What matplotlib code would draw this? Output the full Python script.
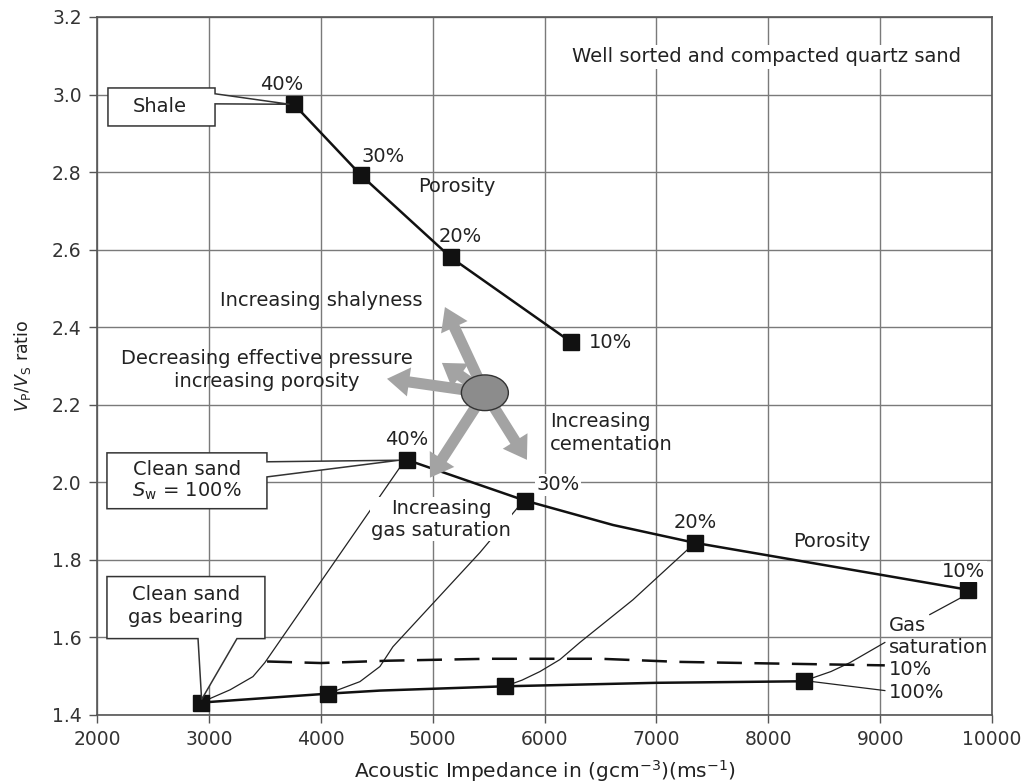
import matplotlib
matplotlib.use('Agg')
import matplotlib.pyplot as plt
from matplotlib.patches import Polygon, Ellipse, FancyArrowPatch, ArrowStyle

plt.rcParams['font.family'] = ['DejaVu Sans']

# ---------------- data ----------------
shale_ai = [3760, 4360, 5163, 6236]
shale_vpvs = [2.975, 2.792, 2.580, 2.362]
shale_labels = ['40%', '30%', '20%', '10%']

sand_ai = [4770, 5825, 7344, 9784]
sand_vpvs = [2.058, 1.953, 1.844, 1.723]
sand_line_ai = [4770, 5825, 6612, 7344, 9784]
sand_line_vpvs = [2.058, 1.953, 1.890, 1.844, 1.723]
sand_labels = ['40%', '30%', '20%', '10%']

gas_ai = [2927, 4064, 5646, 8320]
gas_vpvs = [1.432, 1.455, 1.474, 1.487]
gas_line_ai = [2927, 4064, 4530, 5646, 7000, 8320]
gas_line_vpvs = [1.432, 1.455, 1.463, 1.474, 1.483, 1.487]

gas10_ai = [3520, 4000, 4600, 5500, 6500, 7200, 8000, 9042]
gas10_vpvs = [1.538, 1.534, 1.540, 1.545, 1.545, 1.537, 1.533, 1.528]

curve_a_ai = [2927, 3190, 3394, 3500, 4735]
curve_a_vpvs = [1.432, 1.465, 1.499, 1.535, 2.050]
curve_b_ai = [4064, 4350, 4529, 4645, 5423, 5790]
curve_b_vpvs = [1.455, 1.486, 1.525, 1.576, 1.819, 1.945]
curve_c_ai = [5646, 5800, 5959, 6138, 6316, 6790, 7330]
curve_c_vpvs = [1.474, 1.490, 1.512, 1.543, 1.587, 1.697, 1.840]
curve_d_ai = [8330, 8400, 8560, 8730, 9042]
curve_d_vpvs = [1.489, 1.496, 1.512, 1.535, 1.587]

trend_center = (5467, 2.231)
arrow_tips_ai = [5110, 4592, 5083, 4976, 5843]
arrow_tips_vpvs = [2.452, 2.267, 2.308, 2.012, 2.058]

x_ticks = [2000, 3000, 4000, 5000, 6000, 7000, 8000, 9000, 10000]
y_ticks = [1.4, 1.6, 1.8, 2.0, 2.2, 2.4, 2.6, 2.8, 3.0, 3.2]

# ---------------- figure ----------------
W, H = 1027, 783
fig = plt.figure(figsize=(W / 100, H / 100), dpi=100)
ax = fig.add_axes([97 / W, 1 - 715 / H, (992 - 97) / W, (715 - 17) / H])
ax.set_xlim(2000, 10000)
ax.set_ylim(1.4, 3.2)
ax.set_xticks(x_ticks)
ax.set_yticks(y_ticks)
ax.set_yticklabels([f'{v:.1f}' for v in y_ticks])
ax.grid(True, color='#7a7a7a', lw=1.0)
ax.set_axisbelow(True)
for s in ax.spines.values():
    s.set_color('#555555')
    s.set_linewidth(1.2)
ax.tick_params(direction='out', length=6, width=1, color='#555555',
               labelsize=13.5, labelcolor='#333333', pad=5)

FS = 14
TC = '#222222'

# main lines
ax.plot(shale_ai, shale_vpvs, color='#111111', lw=1.8, zorder=4)
ax.plot(shale_ai, shale_vpvs, 's', color='#111111', ms=11, zorder=5)
ax.plot(sand_line_ai, sand_line_vpvs, color='#111111', lw=1.8, zorder=4)
ax.plot(sand_ai, sand_vpvs, 's', color='#111111', ms=11, zorder=5)
ax.plot(gas_line_ai, gas_line_vpvs, color='#111111', lw=1.8, zorder=4)
ax.plot(gas_ai, gas_vpvs, 's', color='#111111', ms=11, zorder=5)
ax.plot(gas10_ai, gas10_vpvs, color='#111111', lw=1.8, dashes=(10, 5), zorder=4)

for xs, ys in [(curve_a_ai, curve_a_vpvs), (curve_b_ai, curve_b_vpvs),
               (curve_c_ai, curve_c_vpvs), (curve_d_ai, curve_d_vpvs)]:
    ax.plot(xs, ys, color='#222222', lw=0.9, zorder=3)

# leaders near gas saturation label
ax.plot([9739, 9444], [1.705, 1.659], color='#222222', lw=0.9, zorder=3)
ax.plot([8399, 9042], [1.486, 1.463], color='#222222', lw=0.9, zorder=3)

# trend arrows
for tx, ty in zip(arrow_tips_ai, arrow_tips_vpvs):
    arr = FancyArrowPatch(trend_center, (tx, ty),
                          arrowstyle=ArrowStyle.Simple(head_length=1.6, head_width=2.1, tail_width=0.8),
                          mutation_scale=10, color='#a3a3a3', lw=0, shrinkA=0, shrinkB=0, zorder=6)
    ax.add_patch(arr)
ax.add_patch(Ellipse(trend_center, 420, 0.092, facecolor='#8c8c8c', edgecolor='#333333', lw=1.0, zorder=7))

# callout boxes
def callout(pts):
    ax.add_patch(Polygon(pts, closed=True, facecolor='white', edgecolor='#333333', lw=1.1, zorder=8))

callout([(2098, 3.017), (3055, 3.017), (3055, 3.002), (3720, 2.975), (3055, 2.976),
         (3055, 2.919), (2098, 2.919)])
callout([(2089, 2.076), (3519, 2.076), (3519, 2.053), (4700, 2.057), (3519, 2.014),
         (3519, 1.932), (2089, 1.932)])
callout([(2089, 1.757), (3501, 1.757), (3501, 1.597), (3251, 1.597), (2935, 1.440),
         (2903, 1.597), (2089, 1.597)])
ax.text(2563, 2.968, 'Shale', ha='center', va='center', fontsize=FS, color=TC, zorder=9)
ax.text(2804, 2.032, 'Clean sand', ha='center', va='center', fontsize=FS, color=TC, zorder=9)
ax.text(2804, 1.976, r'$S_\mathrm{w}$ = 100%', ha='center', va='center', fontsize=FS, color=TC, zorder=9)
ax.text(2795, 1.710, 'Clean sand', ha='center', va='center', fontsize=FS, color=TC, zorder=9)
ax.text(2795, 1.651, 'gas bearing', ha='center', va='center', fontsize=FS, color=TC, zorder=9)

# percentage labels
shale_lab_pos = [(3653, 3.027, 'center'), (4556, 2.839, 'center'), (5244, 2.633, 'center'), (6400, 2.360, 'left')]
for (x, y, ha), lab in zip(shale_lab_pos, shale_labels):
    ax.text(x, y, lab, ha=ha, va='center', fontsize=FS, color=TC, zorder=9)
sand_lab_pos = [(4770, 2.110), (6120, 1.994), (7344, 1.896), (9748, 1.770)]
for (x, y), lab in zip(sand_lab_pos, sand_labels):
    ax.text(x, y, lab, ha='center', va='center', fontsize=FS, color=TC, zorder=9,
            bbox=dict(facecolor='white', edgecolor='none', pad=1))

ax.text(7987, 3.097, 'Well sorted and compacted quartz sand', ha='center', va='center',
        fontsize=FS, color=TC, zorder=9, bbox=dict(facecolor='white', edgecolor='none', pad=2))
ax.text(5217, 2.762, 'Porosity', ha='center', va='center', fontsize=FS, color=TC, zorder=9)
ax.text(8568, 1.847, 'Porosity', ha='center', va='center', fontsize=FS, color=TC, zorder=9)
ax.text(4002, 2.469, 'Increasing shalyness', ha='center', va='center', fontsize=FS, color=TC, zorder=9)
ax.text(3515, 2.290, 'Decreasing effective pressure\nincreasing porosity', ha='center', va='center',
        fontsize=FS, color=TC, zorder=9, linespacing=1.25)
ax.text(6048, 2.128, 'Increasing\ncementation', ha='left', va='center', fontsize=FS, color=TC,
        zorder=9, linespacing=1.25)
ax.text(5074, 1.905, 'Increasing\ngas saturation', ha='center', va='center', fontsize=FS, color=TC,
        zorder=3.5, linespacing=1.2, bbox=dict(facecolor='white', edgecolor='none', pad=1))
ax.text(9078, 1.602, 'Gas\nsaturation', ha='left', va='center', fontsize=FS, color=TC,
        zorder=9, linespacing=1.2)
ax.text(9078, 1.517, '10%', ha='left', va='center', fontsize=FS, color=TC, zorder=9)
ax.text(9078, 1.458, '100%', ha='left', va='center', fontsize=FS, color=TC, zorder=9)

fig.text(545 / W, 1 - 778 / H, r'Acoustic Impedance in (gcm$^{-3}$)(ms$^{-1}$)',
         ha='center', va='baseline', fontsize=14.5, color=TC)
ax.set_ylabel(r'$V_\mathrm{P}/V_\mathrm{S}$ ratio', fontsize=12.5, color=TC, labelpad=14)

fig.savefig('out.png', dpi=100)
